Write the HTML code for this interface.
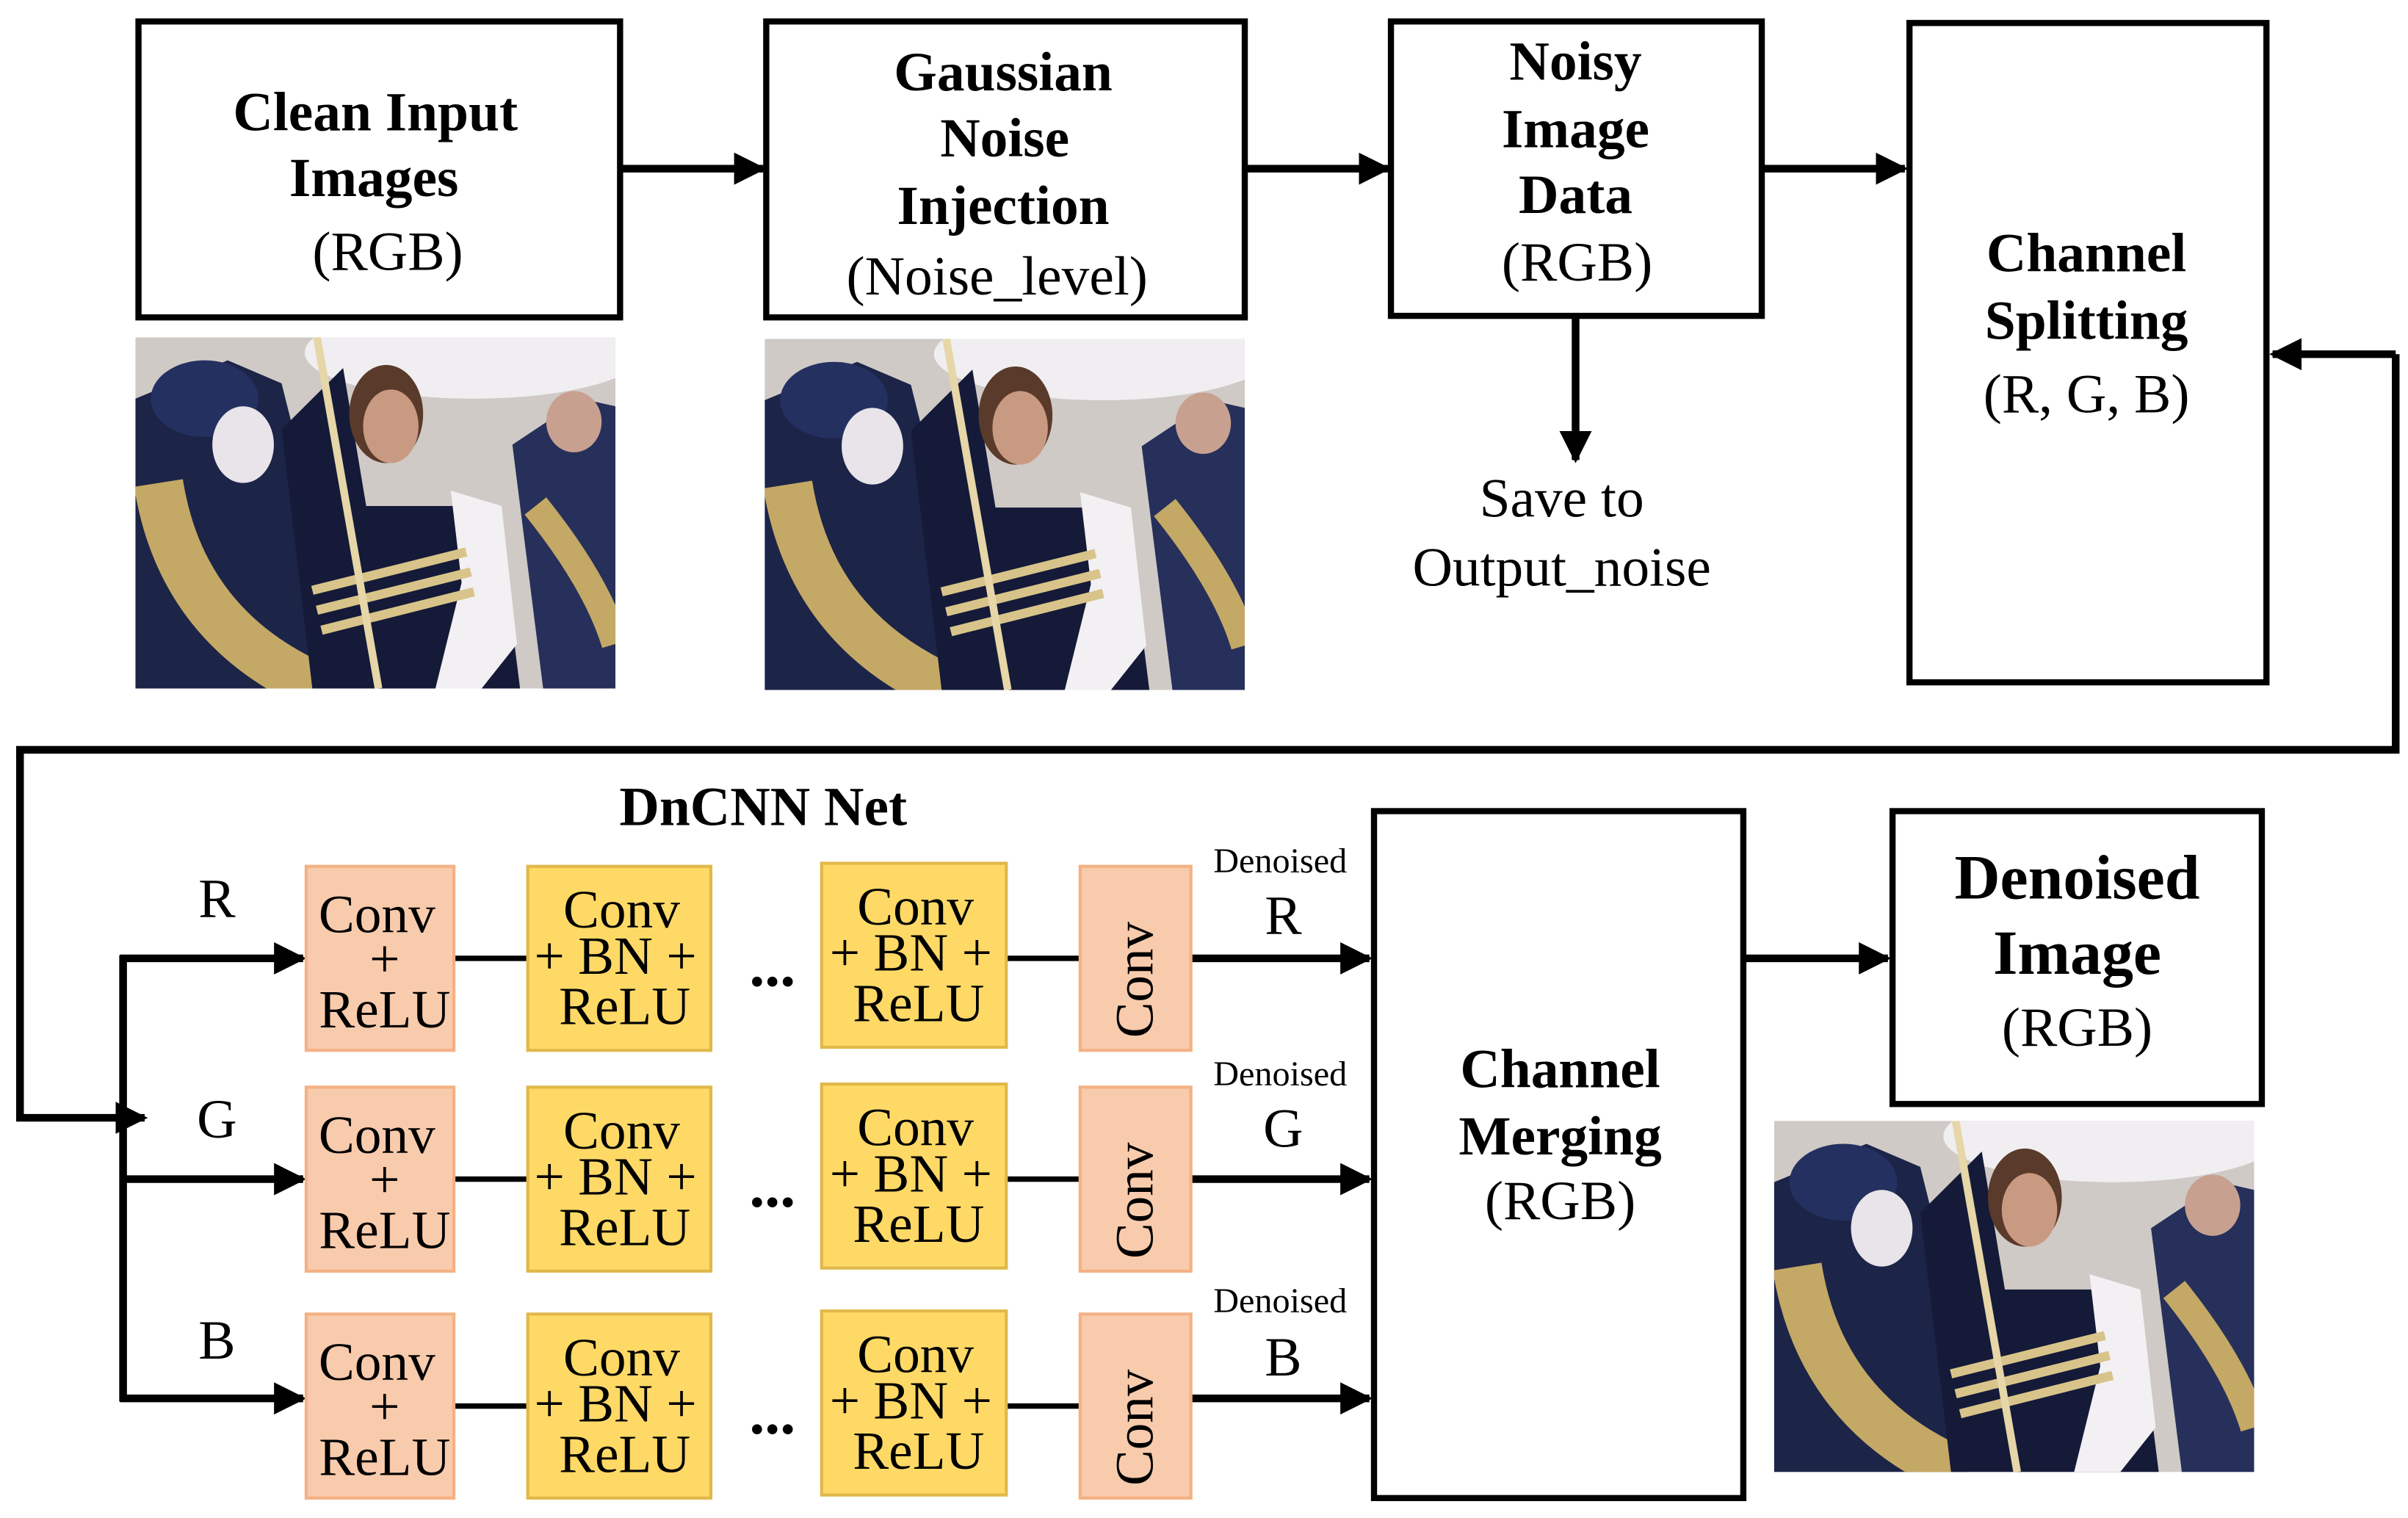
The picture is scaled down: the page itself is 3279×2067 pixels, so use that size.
<!DOCTYPE html>
<html><head><meta charset="utf-8"><style>
html,body{margin:0;padding:0;background:#fff;width:3279px;height:2067px;overflow:hidden}
svg{display:block}
text{font-family:"Liberation Serif",serif;fill:#000}
.b{font-weight:bold}
</style></head><body>
<svg width="3279" height="2067" viewBox="0 0 1565 990" preserveAspectRatio="none" xmlns="http://www.w3.org/2000/svg">
<defs>
<marker id="ah" viewBox="0 0 10 10" refX="9" refY="5" markerWidth="4.2" markerHeight="4.2" markerUnits="strokeWidth" orient="auto">
<path d="M0,0 L10,5 L0,10 z" fill="#000"/></marker>
<clipPath id="pc"><rect x="0" y="0" width="312" height="229"/></clipPath>
<g id="photo">
<g clip-path="url(#pc)">
<rect x="0" y="0" width="312" height="229" fill="#cfcac6"/>
<ellipse cx="220" cy="10" rx="110" ry="30" fill="#f0eef0"/>
<polygon points="0,40 60,15 95,30 115,110 125,229 0,229" fill="#1c2448"/>
<path d="M15,95 Q30,190 120,229" stroke="#c4a865" stroke-width="32" fill="none"/>
<ellipse cx="45" cy="40" rx="35" ry="25" fill="#243060"/>
<ellipse cx="70" cy="70" rx="20" ry="25" fill="#e8e4ea"/>
<polygon points="95,60 135,20 150,110 235,110 250,229 115,229" fill="#151a38"/>
<polygon points="205,100 238,110 248,200 225,229 195,229 212,160" fill="#f2f0f2"/>
<ellipse cx="163" cy="50" rx="24" ry="32" fill="#5a3a2a"/>
<ellipse cx="166" cy="58" rx="18" ry="24" fill="#c99a82"/>
<path d="M115,165 L215,140 M118,178 L218,153 M121,191 L220,166" stroke="#d8c48a" stroke-width="6" fill="none"/>
<line x1="118" y1="0" x2="158" y2="229" stroke="#e6d6a8" stroke-width="5"/>
<polygon points="245,70 290,40 312,45 312,229 265,229" fill="#26305a"/>
<path d="M260,110 Q300,160 312,200" stroke="#c4a865" stroke-width="18" fill="none"/>
<ellipse cx="285" cy="55" rx="18" ry="20" fill="#c8a090"/>
</g>
</g>
</defs>

<g fill="none" stroke="#000" stroke-width="4">
<rect x="90" y="14" width="313" height="193"/>
<rect x="498" y="14" width="311" height="193"/>
<rect x="904" y="14" width="241" height="192"/>
<rect x="1241" y="15" width="232" height="430"/>
<rect x="893" y="529" width="240" height="448"/>
<rect x="1230" y="529" width="240" height="191"/>
</g>

<g stroke="#000" stroke-width="5" fill="none">
<line x1="403" y1="110" x2="496" y2="110" marker-end="url(#ah)"/>
<line x1="809" y1="110" x2="902" y2="110" marker-end="url(#ah)"/>
<line x1="1145" y1="110" x2="1238" y2="110" marker-end="url(#ah)"/>
<line x1="1024" y1="206" x2="1024" y2="300" marker-end="url(#ah)"/>
<polyline points="1557,231 1557,489 13,489 13,729 94,729" marker-end="url(#ah)"/>
<line x1="1557" y1="231" x2="1477" y2="231" marker-end="url(#ah)"/>
<line x1="80" y1="623" x2="80" y2="914"/>
<line x1="78" y1="625" x2="197" y2="625" marker-end="url(#ah)"/>
<line x1="78" y1="769" x2="197" y2="769" marker-end="url(#ah)"/>
<line x1="78" y1="912" x2="197" y2="912" marker-end="url(#ah)"/>
<line x1="774" y1="625" x2="890" y2="625" marker-end="url(#ah)"/>
<line x1="774" y1="769" x2="890" y2="769" marker-end="url(#ah)"/>
<line x1="774" y1="912" x2="890" y2="912" marker-end="url(#ah)"/>
<line x1="1133" y1="625" x2="1227" y2="625" marker-end="url(#ah)"/>
</g>
<g stroke="#000" stroke-width="3.5">
<line x1="295" y1="625" x2="343" y2="625"/><line x1="654" y1="625" x2="702" y2="625"/>
<line x1="295" y1="769" x2="343" y2="769"/><line x1="654" y1="769" x2="702" y2="769"/>
<line x1="295" y1="917" x2="343" y2="917"/><line x1="654" y1="917" x2="702" y2="917"/>
</g>

<g font-size="36" text-anchor="middle">
<text class="b" x="244" y="85">Clean Input</text>
<text class="b" x="243" y="128">Images</text>
<text x="252" y="176">(RGB)</text>
<text class="b" x="652" y="59">Gaussian</text>
<text class="b" x="653" y="102">Noise</text>
<text class="b" x="652" y="146">Injection</text>
<text x="648" y="192">(Noise_level)</text>
<text class="b" x="1024" y="52">Noisy</text>
<text class="b" x="1024" y="96">Image</text>
<text class="b" x="1024" y="139">Data</text>
<text x="1025" y="183">(RGB)</text>
<text x="1015" y="337">Save to</text>
<text x="1015" y="382">Output_noise</text>
<text class="b" x="1356" y="177">Channel</text>
<text class="b" x="1356" y="221">Splitting</text>
<text x="1356" y="269">(R, G, B)</text>
<text class="b" x="496" y="538">DnCNN Net</text>
<text class="b" x="1014" y="709">Channel</text>
<text class="b" x="1014" y="753">Merging</text>
<text x="1014" y="795">(RGB)</text>
<text class="b" x="1350" y="586" font-size="41">Denoised</text>
<text class="b" x="1350" y="635" font-size="41">Image</text>
<text x="1350" y="682">(RGB)</text>
<text x="141" y="598">R</text><text x="141" y="742">G</text><text x="141" y="886">B</text>
<text x="834" y="609">R</text><text x="834" y="748">G</text><text x="834" y="897">B</text>
</g>
<g font-size="23" text-anchor="middle">
<text x="832" y="569">Denoised</text><text x="832" y="708">Denoised</text><text x="832" y="856">Denoised</text>
</g>

<g id="row1">
<rect x="199" y="565" width="96" height="120" fill="#f8cbad" stroke="#f4b183" stroke-width="2"/>
<rect x="343" y="565" width="119" height="120" fill="#ffd966" stroke="#e0b84a" stroke-width="2"/>
<rect x="534" y="563" width="120" height="120" fill="#ffd966" stroke="#e0b84a" stroke-width="2"/>
<rect x="702" y="565" width="72" height="120" fill="#f8cbad" stroke="#f4b183" stroke-width="2"/>
<g font-size="35" text-anchor="middle">
<text x="245" y="608">Conv</text><text x="250" y="637">+</text><text x="250" y="670">ReLU</text>
<text x="404" y="605">Conv</text><text x="400" y="635">+ BN +</text><text x="406" y="668">ReLU</text>
<text x="595" y="603">Conv</text><text x="592" y="633">+ BN +</text><text x="597" y="666">ReLU</text>
<text x="502" y="643" font-weight="bold" font-size="40">...</text>
<text transform="translate(741,639) rotate(-90)" dominant-baseline="middle">Conv</text>
</g>
</g>
<use href="#row1" transform="translate(0,144)"/>
<use href="#row1" transform="translate(0,292)"/>

<use href="#photo" transform="translate(88,220)"/>
<use href="#photo" transform="translate(497,221)"/>
<use href="#photo" transform="translate(1153,731)"/>
</svg>
</body></html>
